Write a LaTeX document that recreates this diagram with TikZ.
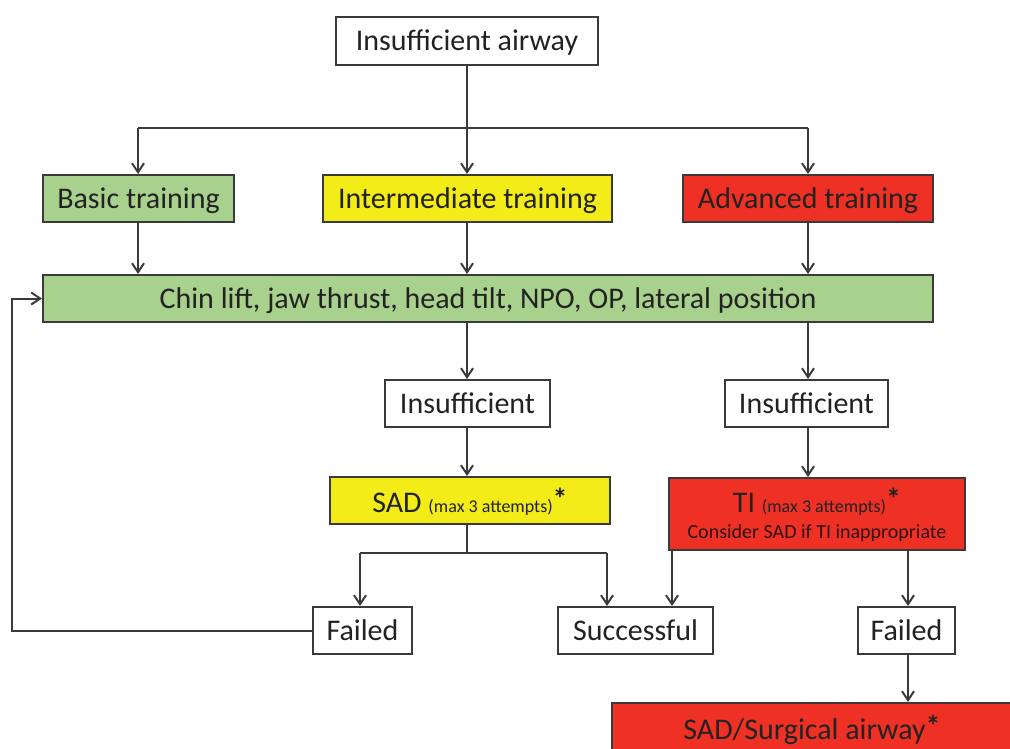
\documentclass[tikz,border=0pt]{standalone}
\usepackage{fontspec}
\setmainfont{Carlito}
\usetikzlibrary{arrows.meta,calc}
\definecolor{bgreen}{HTML}{A9D18E}
\definecolor{byellow}{HTML}{F3EC19}
\definecolor{bred}{HTML}{EE3124}
\definecolor{ink}{HTML}{222222}
\definecolor{edge}{HTML}{3A3A3A}
\tikzset{
  box/.style={draw=edge, line width=2pt, minimum height=47pt, inner sep=0pt, text=ink,
              font=\fontsize{30}{32}\selectfont, align=center, text depth=1pt},
  wbox/.style={box, fill=white},
  gbox/.style={box, fill=bgreen},
  ybox/.style={box, fill=byellow},
  rbox/.style={box, fill=bred},
  conn/.style={draw=edge, line width=2pt},
  arr/.style={conn, -{Straight Barb[length=9pt,width=12pt,line width=2pt]}},
}
\newcommand{\smalltxt}[1]{{\fontsize{18}{20}\selectfont #1}}
\newcommand{\astmark}{\raisebox{3pt}{\fontsize{30}{30}\selectfont\bfseries *}}
\begin{document}
\begin{tikzpicture}[x=1pt,y=-1pt]
\useasboundingbox[fill=white] (0,0) rectangle (1010,749);
\begin{scope}
\clip (0,0) rectangle (1010,749);
\node[wbox, minimum width=262pt, minimum height=48pt] (top) at (467,41) {Insufficient airway};
\node[gbox, minimum width=191pt] (basic) at (138.5,198.5) {Basic training};
\node[ybox, minimum width=289pt] (inter) at (467.5,198.5) {Intermediate training};
\node[rbox, minimum width=250pt] (adv) at (808,198.5) {Advanced training};
\node[gbox, minimum width=890pt] (chin) at (488,298.5) {Chin lift, jaw thrust, head tilt, NPO, OP, lateral position};
\node[wbox, minimum width=165pt] (ins1) at (467.5,403.5) {Insufficient};
\node[wbox, minimum width=163pt] (ins2) at (806.5,403.5) {Insufficient};
\node[ybox, minimum width=280pt] (sad) at (470,500.5) {SAD \smalltxt{(max 3 attempts)}\astmark};
\node[rbox, minimum width=296pt, minimum height=72pt] (ti) at (817,514)
  {TI \smalltxt{(max 3 attempts)}\astmark\\[-6pt]{\fontsize{20}{22}\selectfont\color{ink!60!bred!40!black}Consider SAD if TI inappropriate}};
\node[wbox, minimum width=99pt] (failL) at (362.5,630.5) {Failed};
\node[wbox, minimum width=155pt] (succ) at (635.5,630.5) {Successful};
\node[wbox, minimum width=97pt] (failR) at (906.5,630.5) {Failed};
\node[rbox, minimum width=400pt, minimum height=50pt] (surg) at (812,728) {SAD/Surgical airway\astmark};

% top distribution
\coordinate (hub) at (467,128);
\coordinate (hubL) at (138,128);
\coordinate (hubR) at (808,128);
\draw[conn] (top.south) -- (hub);
\draw[conn] (hubL) -- (hubR);
\draw[arr] (hubL) -- (hubL |- basic.north);
\draw[arr] (hub) -- (hub |- inter.north);
\draw[arr] (hubR) -- (hubR |- adv.north);

% training to chin
\draw[arr] (basic.south -| hubL) -- (hubL |- chin.north);
\draw[arr] (inter.south -| hub) -- (hub |- chin.north);
\draw[arr] (adv.south -| hubR) -- (hubR |- chin.north);

% chin to insufficient
\draw[arr] (chin.south -| hub) -- (hub |- ins1.north);
\draw[arr] (chin.south -| hubR) -- (hubR |- ins2.north);

% insufficient to SAD / TI
\draw[arr] (ins1.south -| hub) -- (hub |- sad.north);
\draw[arr] (ins2.south -| hubR) -- (hubR |- ti.north);

% SAD split
\coordinate (split) at (467,553);
\coordinate (sL) at (360,553);
\coordinate (sR) at (607,553);
\draw[conn] (sad.south -| split) -- (split);
\draw[conn] (sL) -- (sR);
\draw[arr] (sL) -- (sL |- failL.north);
\draw[arr] (sR) -- (sR |- succ.north);

% TI outcomes
\coordinate (tL) at (672,550);
\coordinate (tR) at (908,550);
\draw[arr] (ti.south -| tL) -- (tL |- succ.north);
\draw[arr] (ti.south -| tR) -- (tR |- failR.north);
\draw[arr] (failR.south -| tR) -- (tR |- surg.north);

% loop back
\coordinate (loop) at (12,630.5);
\draw[arr] (failL.west) -- (loop) |- (chin.west);
\end{scope}
\end{tikzpicture}
\end{document}
